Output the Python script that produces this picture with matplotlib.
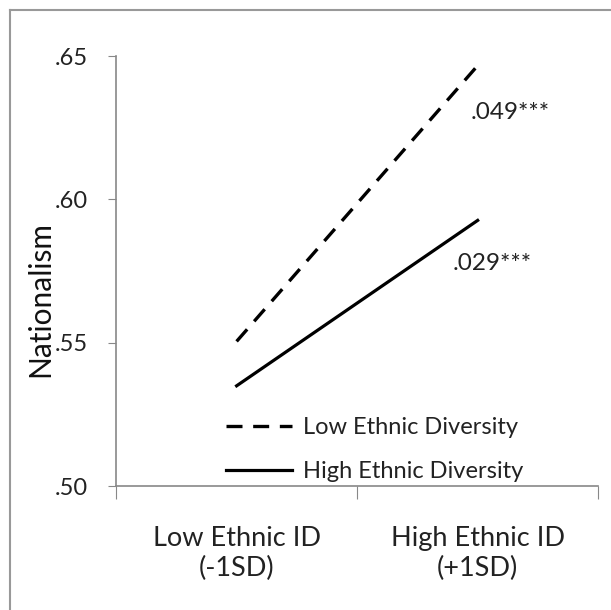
import matplotlib.pyplot as plt
from matplotlib.lines import Line2D

# Interaction plot: nationalism by ethnic ID and ethnic diversity
categories = ["Low Ethnic ID\n(-1SD)", "High Ethnic ID\n(+1SD)"]
low_div = [0.5505, 0.6467]      # Low Ethnic Diversity (dashed)
high_div = [0.535, 0.5927]      # High Ethnic Diversity (solid)
slope_labels = [".049***", ".029***"]
yticks = [0.50, 0.55, 0.60, 0.65]
ytick_labels = [".50", ".55", ".60", ".65"]

plt.rcParams['font.family'] = ['Lato', 'DejaVu Sans']

fig = plt.figure(figsize=(6.11, 6.10), dpi=100)
ax = fig.add_axes([0.190, 0.203, 0.789, 0.705])

x = [0, 1]
ax.plot(x, low_div, color="black", lw=2.4, linestyle=(0, (4.8, 3.2)),
        label="Low Ethnic Diversity")
ax.plot(x, high_div, color="black", lw=2.3, label="High Ethnic Diversity")

ax.text(0.97, 0.6303, slope_labels[0], fontsize=17.5, color="#222222",
        ha="left", va="center")
ax.text(0.895, 0.5775, slope_labels[1], fontsize=17.5, color="#222222",
        ha="left", va="center")

ax.set_xlim(-0.5, 1.5)
ax.set_ylim(0.50, 0.65)
ax.set_yticks(yticks)
ax.set_yticklabels(ytick_labels)
ax.set_xticks([-0.5, 0.5, 1.5])
ax.set_xticklabels([])
ax.set_xticks(x, minor=True)
ax.set_xticklabels(categories, minor=True)
ax.tick_params(axis="x", which="major", length=9, color="#888888", direction="out")
ax.tick_params(axis="x", which="minor", length=0, labelsize=19.5, pad=29,
               labelcolor="#222222")
ax.tick_params(axis="y", length=6, color="#888888", labelsize=17,
               labelcolor="#222222", pad=14)

for s in ["top", "right"]:
    ax.spines[s].set_visible(False)
for s in ["left", "bottom"]:
    ax.spines[s].set_color("#888888")
    ax.spines[s].set_linewidth(1.2)

ax.set_ylabel("Nationalism", fontsize=21.5, color="#111111")
ax.yaxis.set_label_coords(-0.128, 0.436)

leg = ax.legend(loc="upper left", bbox_to_anchor=(0.228, 0.16), frameon=False,
                fontsize=17, handlelength=2.8, handletextpad=0.45,
                labelspacing=0.95, borderaxespad=0, borderpad=0)
for t in leg.get_texts():
    t.set_color("#222222")

# outer frame (left and top edges visible)
fig.add_artist(Line2D([10/611, 10/611], [0, 1 - 10/610], transform=fig.transFigure,
                      color="#999999", lw=1.5))
fig.add_artist(Line2D([10/611, 1], [1 - 10/610, 1 - 10/610], transform=fig.transFigure,
                      color="#999999", lw=1.5))

fig.savefig("out.png", dpi=100)
